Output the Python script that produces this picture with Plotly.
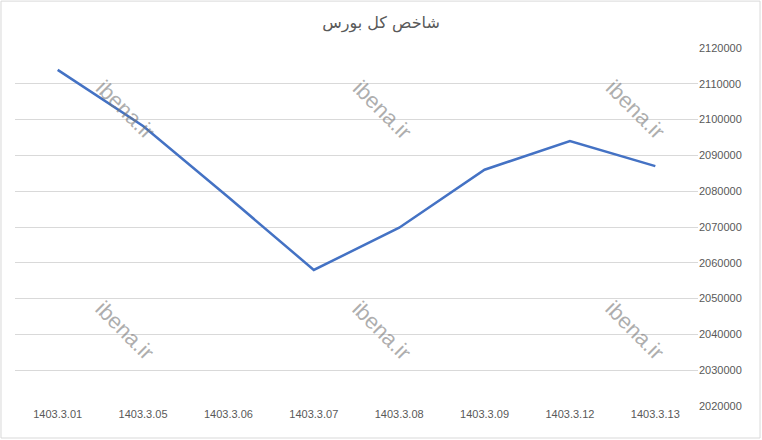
import plotly.graph_objects as go

DATES = ["1403.3.01", "1403.3.05", "1403.3.06", "1403.3.07",
         "1403.3.08", "1403.3.09", "1403.3.12", "1403.3.13"]
INDEX_VALUES = [2113900, 2098200, 2078300, 2058000,
                2069800, 2086000, 2094000, 2087000]
Y_TICKS = list(range(2020000, 2120001, 10000))

LINE_COLOR = "#4472C4"
TEXT_COLOR = "#595959"
GRID_COLOR = "#D9D9D9"

fig = go.Figure(go.Scatter(
    x=DATES, y=INDEX_VALUES,
    mode="lines",
    line=dict(color=LINE_COLOR, width=2.5),
    hovertemplate="%{x}<br>%{y}<extra></extra>",
))

# watermark
for wx in (0.161, 0.537, 0.908):
    for wy in (0.827, 0.212):
        fig.add_annotation(
            text="ibena.ir", xref="paper", yref="paper", x=wx, y=wy,
            xanchor="center", yanchor="middle",
            showarrow=False, textangle=45,
            font=dict(size=22, color="rgba(120,120,120,0.6)",
                      family="Liberation Sans, Arial, sans-serif"),
        )

fig.update_layout(
    width=762, height=440,
    paper_bgcolor="white", plot_bgcolor="white",
    margin=dict(l=15, r=64, t=48, b=34),
    showlegend=False,
    font=dict(family="Liberation Sans, Arial, sans-serif", color=TEXT_COLOR, size=11),
    title=dict(text="شاخص کل بورس", x=0.5, xanchor="center", y=0.95, yanchor="middle",
               font=dict(size=16, color=TEXT_COLOR, family="DejaVu Sans, Noto Sans, sans-serif")),
    shapes=[dict(type="rect", xref="paper", yref="paper",
                 x0=-0.0205, x1=1.0908, y0=-0.0894, y1=1.131,
                 line=dict(color="#D9D9D9", width=1))],
)
fig.update_xaxes(type="category", range=[-0.5, len(DATES) - 0.5], automargin=False,
                 showgrid=False, showline=False, ticks="",
                 tickfont=dict(size=11, color=TEXT_COLOR))
fig.update_yaxes(side="right", range=[2020000, 2120000], tickvals=Y_TICKS, automargin=False,
                 tickformat="d", showgrid=True, gridcolor=GRID_COLOR, gridwidth=1,
                 zeroline=False, showline=False, ticks="",
                 tickfont=dict(size=11, color=TEXT_COLOR))

# drop the browser's default body margin so the chart sits at the page corner
fig.write_html("out.html", config={"displayModeBar": False},
               post_script="document.body.style.margin='0';")
